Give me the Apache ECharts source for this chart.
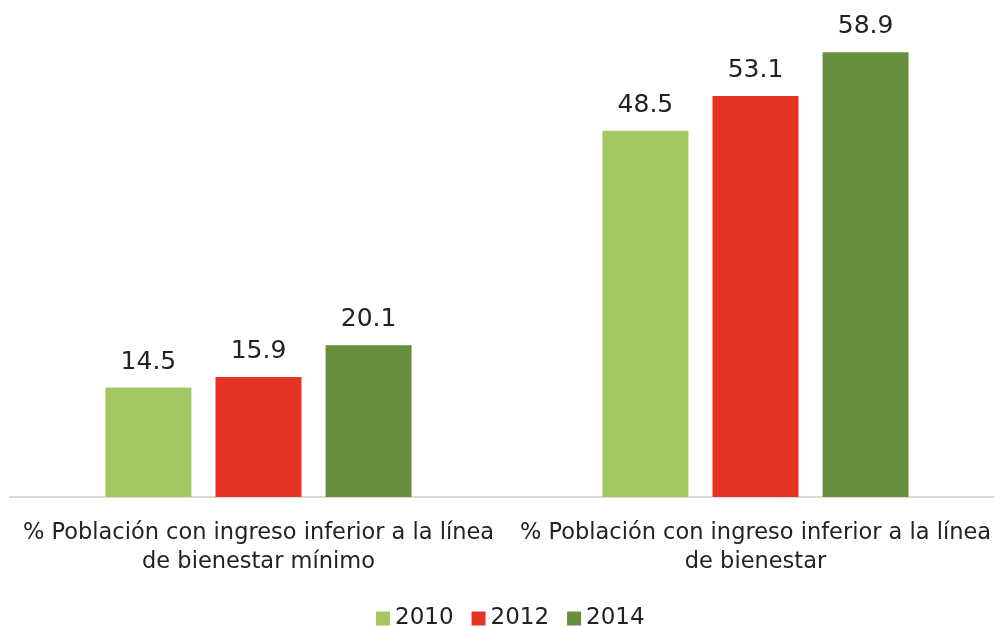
<!DOCTYPE html>
<html>
<head>
<meta charset="utf-8">
<script src="https://cdn.jsdelivr.net/npm/echarts@6/dist/echarts.min.js"></script>
<style>
  html, body { margin: 0; padding: 0; background: #fff; overflow: hidden; }
  #chart { width: 1004px; height: 626px; }
</style>
</head>
<body>
<div id="chart"></div>
<script>
// categorías y valores
const categories = [
  '% Población con ingreso inferior a la línea\nde bienestar mínimo',
  '% Población con ingreso inferior a la línea\nde bienestar'
]
const years = ['2010', '2012', '2014']
const values2010 = [14.5, 48.5]
const values2012 = [15.9, 53.1]
const values2014 = [20.1, 58.9]
const colors = ['#a3c862', '#e53424', '#688f3e']

const font = 'DejaVu Sans'
const chart = echarts.init(document.getElementById('chart'))

const seriesData = [values2010, values2012, values2014]

chart.setOption({
  animation: false,
  textStyle: { fontFamily: font },
  grid: { left: 10, top: 44, right: 0, bottom: 129 },
  legend: {
    bottom: -9,
    left: 371,
    itemWidth: 14,
    itemHeight: 14,
    itemGap: 18,
    icon: 'rect',
    textStyle: { fontSize: 23, color: '#222', fontFamily: font, padding: [0, 0, 0, 0] },
    data: years
  },
  xAxis: {
    type: 'category',
    data: categories,
    axisLine: { lineStyle: { color: '#d9d9d9', width: 2 } },
    axisTick: { show: false },
    axisLabel: {
      fontSize: 22.5,
      color: '#222',
      lineHeight: 29,
      margin: 22,
      interval: 0
    }
  },
  yAxis: {
    type: 'value',
    min: 0,
    max: 60,
    show: false,
    splitLine: { show: false }
  },
  series: years.map((y, i) => ({
    name: y,
    type: 'bar',
    barWidth: 86,
    barGap: '28%',
    data: seriesData[i],
    itemStyle: { color: colors[i] },
    label: {
      show: true,
      position: 'top',
      distance: 13,
      fontSize: 25,
      color: '#222',
      formatter: p => p.value.toFixed(1)
    }
  }))
})
</script>
</body>
</html>
